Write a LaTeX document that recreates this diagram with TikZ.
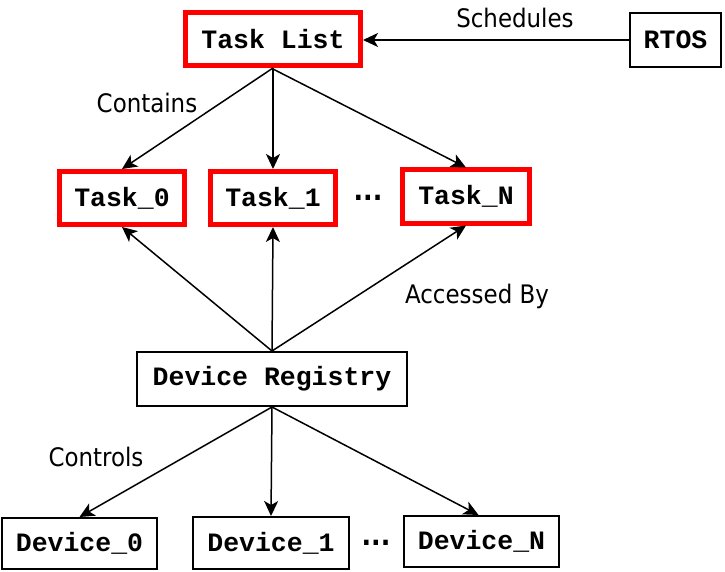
\documentclass[tikz,border=0pt]{standalone}
\usepackage{fontspec}
\setmainfont{DejaVu Sans Condensed}
\setmonofont{Liberation Mono}
\usetikzlibrary{arrows.meta}
\begin{document}
\begin{tikzpicture}[x=1pt,y=-1pt,
  redbox/.style={draw=red,line width=5pt,inner sep=0pt,font=\fontsize{26.5}{28}\selectfont\ttfamily\bfseries,minimum height=53pt},
  blkbox/.style={draw=black,line width=2pt,inner sep=0pt,font=\fontsize{26.5}{28}\selectfont\ttfamily\bfseries,minimum height=53pt},
  lbl/.style={font=\fontsize{25.5}{28}\selectfont,inner sep=0pt},
  dots/.style={font=\fontsize{28}{30}\selectfont\bfseries,inner sep=0pt},
  arr/.style={line width=1.5pt,-{Stealth[length=15pt,width=14pt,inset=4pt]}}]
\useasboundingbox (0,0) rectangle (725,572);
\node[redbox,minimum width=175pt] (TL) at (273,39) {Task List};
\node[blkbox,minimum width=91pt,minimum height=54pt] (RTOS) at (675.5,40) {RTOS};
\node[redbox,minimum width=125pt] (T0) at (122,198) {Task\_0};
\node[redbox,minimum width=125pt] (T1) at (273,198) {Task\_1};
\node[redbox,minimum width=127pt] (TN) at (466,196.5) {Task\_N};
\node[blkbox,minimum width=270pt,minimum height=54pt] (DR) at (272,379) {Device Registry};
\node[blkbox,minimum width=155pt,minimum height=51pt] (D0) at (79.5,543.5) {Device\_0};
\node[blkbox,minimum width=156pt,minimum height=52pt] (D1) at (271,543) {Device\_1};
\node[blkbox,minimum width=155pt,minimum height=51pt] (DN) at (481.5,541.5) {Device\_N};
\node[lbl] (lsched) at (515,18) {Schedules};
\node[lbl] (lcont) at (147,103) {Contains};
\node[lbl] (lacc) at (477,296) {Accessed By};
\node[lbl] (lctrl) at (96,457) {Controls};
\node[dots] (dt) at (368,198) {...};
\node[dots] (dd) at (376,543) {...};
\draw[arr] (RTOS.west) -- (TL.east |- RTOS.west);
\draw[arr] (TL.south) -- (T0.north);
\draw[arr] (TL.south) -- (T1.north);
\draw[arr] ([yshift=-1pt]TL.south) -- (TN.north);
\draw[arr] (DR.north) -- (T0.south);
\draw[arr] (DR.north) -- (T1.south);
\draw[arr] (DR.north) -- (TN.south);
\draw[arr] (DR.south) -- (D0.north);
\draw[arr] (DR.south) -- (D1.north);
\draw[arr] (DR.south) -- ([xshift=-3pt]DN.north);
\end{tikzpicture}
\end{document}
